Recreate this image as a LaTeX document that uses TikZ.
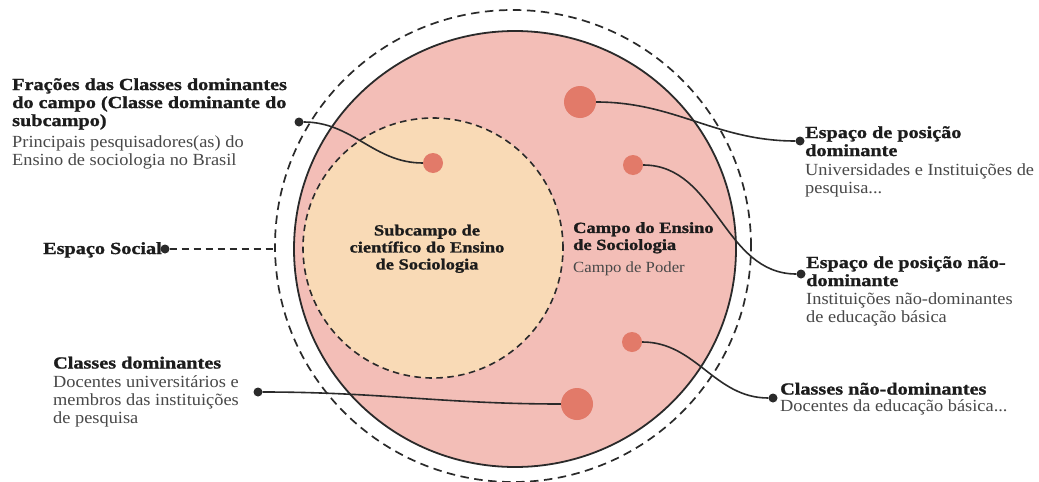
\documentclass[tikz,border=0pt]{standalone}
\usepackage{fontspec}
\newfontfamily\regf{Liberation Serif}[FakeStretch=1.08]
\newfontfamily\boldf{Liberation Serif}[FakeStretch=1.19, BoldFeatures={FakeBold=1.2}]
\definecolor{pinkfill}{HTML}{F3BEB7}
\definecolor{peach}{HTML}{F9DAB6}
\definecolor{salmon}{HTML}{E27A69}
\definecolor{linec}{HTML}{2A2A2A}
\definecolor{titlec}{HTML}{1C1C1C}
\definecolor{bodyc}{HTML}{484848}
\newcommand{\ttl}[1]{{\color{titlec}\boldf\bfseries #1}}
\newcommand{\bdy}[1]{{\color{bodyc}\regf #1}}
\tikzset{
  sdot/.style={circle, fill=salmon, inner sep=0pt, draw=none},
  edot/.style={circle, fill=linec, inner sep=0pt, minimum size=9pt, draw=none},
  conn/.style={draw=linec, line width=1.6pt},
  txt/.style={inner sep=0pt, align=left, anchor=north west, font=\fontsize{17}{18}\selectfont},
  ctxt/.style={inner sep=0pt, font=\fontsize{15.5}{17}\selectfont},
}
\begin{document}
\begin{tikzpicture}[x=1pt,y=-1pt]
\fill[white] (0,0) rectangle (1039,482);
\useasboundingbox (0,0) rectangle (1039,482);
% circles
\draw[linec, line width=1.7pt, dash pattern=on 8.5pt off 5.5pt] (513,246) ellipse [x radius=238pt, y radius=236pt];
\draw[linec, line width=1.8pt, fill=pinkfill] (515,249) ellipse [x radius=221pt, y radius=218pt];
\draw[linec, line width=1.6pt, dash pattern=on 6.5pt off 4.5pt, fill=peach] (433,248) circle [radius=130pt];
% salmon dots
\node[sdot, minimum size=20pt] (f1) at (433,163) {};
\node[sdot, minimum size=32pt] (d1) at (580,102) {};
\node[sdot, minimum size=20pt] (d2) at (633,165) {};
\node[sdot, minimum size=20pt] (d3) at (632,342) {};
\node[sdot, minimum size=32pt] (d4) at (577,404) {};
% end dots
\node[edot] (e1) at (299,122) {};
\node[edot] (e2) at (800,141) {};
\node[edot] (e3) at (801,274) {};
\node[edot] (e4) at (773,398) {};
\node[edot] (e5) at (258,392) {};
\node[edot] (es) at (165,249) {};
\coordinate (esend) at (275,249);
% connectors
\draw[conn] (e1) to[out=0,in=180] (f1);
\draw[conn] (d1) to[out=0,in=180] (e2);
\draw[conn] (d2) to[out=0,in=180] (e3);
\draw[conn] (d3) to[out=0,in=180] (e4);
\draw[conn] (e5) to[out=0,in=180] (d4);
\draw[linec, line width=1.5pt, dash pattern=on 7pt off 5pt] (es) -- (esend);
% texts
\node[txt] (tfrac) at (12,78) {\ttl{Frações das Classes dominantes}\\\ttl{do campo (Classe dominante do}\\\ttl{subcampo)}\\[3pt]\bdy{Principais pesquisadores(as) do}\\\bdy{Ensino de sociologia no Brasil}};
\node[inner sep=0pt, anchor=base west, font=\fontsize{17}{18}\selectfont] (tes) at (43,254) {\ttl{Espaço Social}};
\node[txt] (tcd) at (53,356.5) {\ttl{Classes dominantes}\\[1pt]\bdy{Docentes universitários e}\\\bdy{membros das instituições}\\\bdy{de pesquisa}};
\node[txt] (tepd) at (805,126) {\ttl{Espaço de posição}\\\ttl{dominante}\\[1pt]\bdy{Universidades e Instituições de}\\\bdy{pesquisa...}};
\node[txt] (tepnd) at (806,256) {\ttl{Espaço de posição não-}\\\ttl{dominante}\\\bdy{Instituições não-dominantes}\\\bdy{de educação básica}};
\node[txt] (tcnd) at (780,382.5) {\ttl{Classes não-dominantes}\\[-1pt]\bdy{Docentes da educação básica...}};
\node[ctxt, align=center, anchor=north] (tsub) at (427,224.5) {\ttl{Subcampo de}\\\ttl{científico do Ensino}\\\ttl{de Sociologia}};
\node[ctxt, align=left, anchor=north west] (tcampo) at (573,222) {\ttl{Campo do Ensino}\\\ttl{de Sociologia}\\[6pt]\bdy{Campo de Poder}};
\end{tikzpicture}
\end{document}
